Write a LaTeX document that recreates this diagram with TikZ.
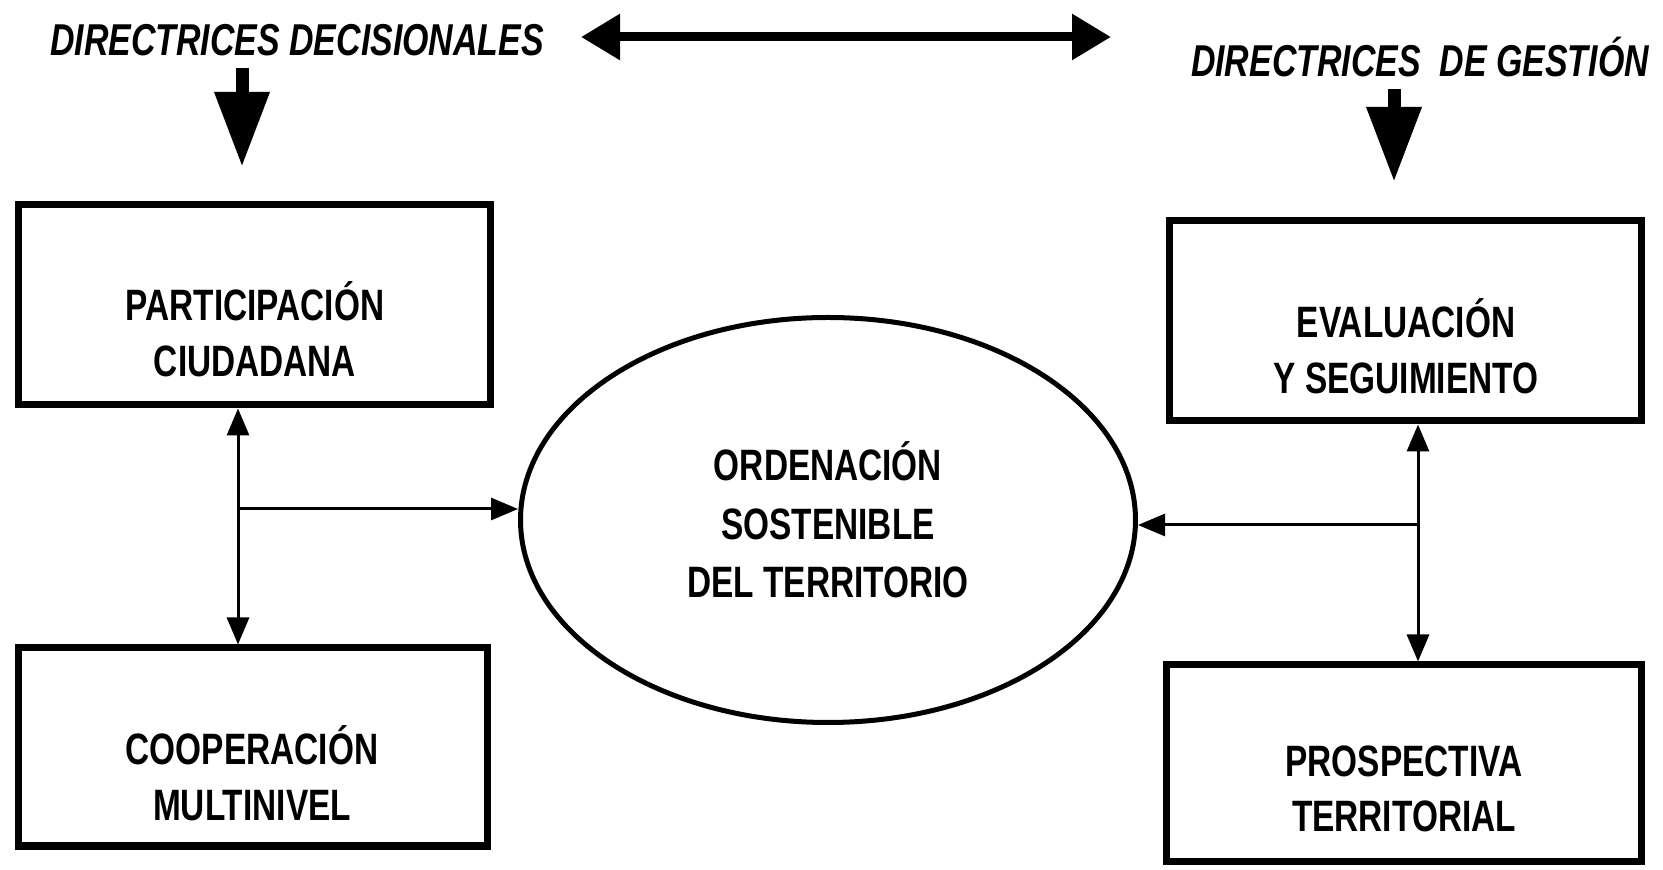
\documentclass[tikz,border=0pt]{standalone}
\usepackage{fontspec}
\setmainfont{Liberation Sans}[FakeStretch=0.76]
\usetikzlibrary{arrows.meta,shapes.geometric}

\begin{document}
\begin{tikzpicture}[
  box/.style={draw, line width=0.07cm, minimum width=4.72cm, minimum height=2.0cm, inner sep=0pt},
  boxtext/.style={font=\bfseries\fontsize{12.5}{15.8}\selectfont, align=center},
  head/.style={font=\bfseries\itshape\fontsize{12.7}{14}\selectfont},
  bigarrow/.style={line width=0.13cm, -{Triangle[length=0.75cm,width=0.52cm]}},
  linkarrow/.style={line width=0.03cm, {Triangle[length=0.27cm,width=0.22cm]}-{Triangle[length=0.27cm,width=0.22cm]}},
  linkone/.style={line width=0.03cm, -{Triangle[length=0.27cm,width=0.22cm]}}
]
\useasboundingbox (0,0) rectangle (16.63,8.69);
\node[head] (Dec) at (2.97,8.29) {DIRECTRICES DECISIONALES};
\node[head] (Ges) at (14.20,8.12) {DIRECTRICES\ \ DE GESTIÓN};
\coordinate (DecL) at (5.81,8.32); \coordinate (DecR) at (11.11,8.32);
\draw[line width=0.09cm, {Triangle[length=0.39cm,width=0.44cm]}-{Triangle[length=0.39cm,width=0.44cm]}] (DecL) -- (DecR);
\coordinate (DecTip) at (2.42,7.02); \draw[bigarrow] (Dec.south -| DecTip) -- (DecTip);
\coordinate (GesTip) at (13.94,6.87); \draw[bigarrow] (Ges.south -| GesTip) -- (GesTip);

\node[box] (Part) at (2.545,5.64) {};
\node[boxtext] (PartText) at (2.55,5.40) {PARTICIPACIÓN\\CIUDADANA};
\node[box, minimum width=4.69cm, minimum height=1.98cm] (Coop) at (2.53,1.22) {};
\node[boxtext] (CoopText) at (2.52,0.96) {COOPERACIÓN\\MULTINIVEL};
\node[box] (Eval) at (14.05,5.48) {};
\node[boxtext] (EvalText) at (14.06,5.23) {EVALUACIÓN\\Y SEGUIMIENTO};
\node[box, minimum width=4.75cm, minimum height=1.96cm] (Prosp) at (14.04,1.06) {};
\node[boxtext] (ProspText) at (14.04,0.80) {PROSPECTIVA\\TERRITORIAL};
\node[draw, ellipse, line width=0.05cm, minimum width=6.15cm, minimum height=4.05cm, inner sep=0pt, boxtext, font=\bfseries\fontsize{12.5}{16.6}\selectfont] (Orden) at (8.28,3.49) {ORDENACIÓN\\SOSTENIBLE\\DEL TERRITORIO};

\coordinate (LeftJoin) at (2.38,3.60);
\draw[linkarrow] (LeftJoin |- Part.south) -- (LeftJoin |- Coop.north);
\draw[linkone] (LeftJoin) -- (LeftJoin -| Orden.west);
\coordinate (RightJoin) at (14.18,3.44);
\draw[linkarrow] (RightJoin |- Eval.south) -- (RightJoin |- Prosp.north);
\draw[linkone] (RightJoin) -- (RightJoin -| Orden.east);
\end{tikzpicture}
\end{document}
